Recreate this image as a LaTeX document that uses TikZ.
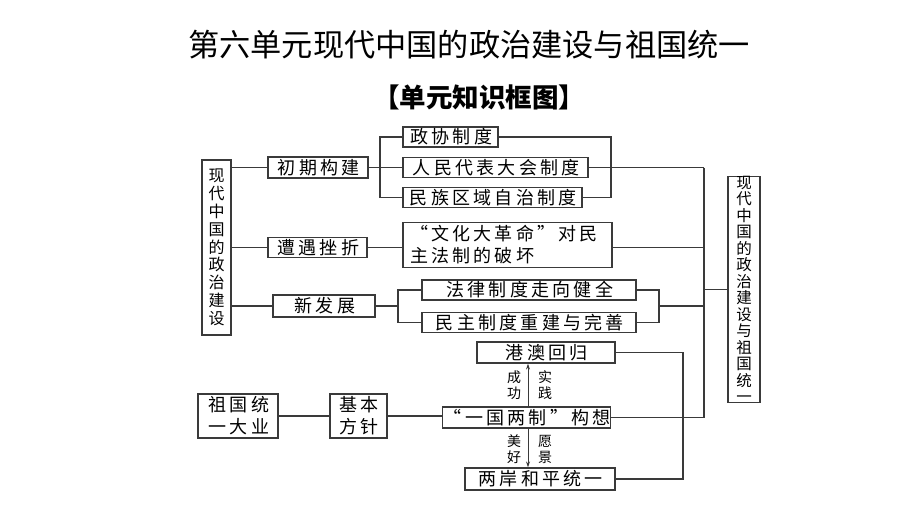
\documentclass[tikz,border=0pt]{standalone}
\usepackage{fontspec}
\newfontfamily\cjk{Noto Sans CJK SC}
\newfontfamily\cjksp[LetterSpace=18]{Noto Sans CJK SC}
\usetikzlibrary{arrows.meta}
\definecolor{lc}{HTML}{3A3A3A}
\tikzset{
  bx/.style={draw=lc, line width=1.2pt, inner sep=0pt, align=center,
    font=\cjksp\fontsize{18}{22}\selectfont, text=black},
  vbx/.style={draw=lc, line width=1.2pt, inner sep=0pt, align=center,
    font=\cjk\fontsize{16}{17.8}\selectfont, text=black},
  ln/.style={draw=lc, line width=1.2pt},
  lbl/.style={inner sep=0pt, align=center, font=\cjk\fontsize{14}{16}\selectfont, text=black}
}
\newcommand{\ks}{\kern1.6pt}
\begin{document}
\begin{tikzpicture}[x=1pt,y=-1pt]
\useasboundingbox (0,0) rectangle (920,517);
\fill[white] (0,0) rectangle (920,517);
% titles
\node[font=\cjk\fontsize{31.2}{36}\selectfont] (title) at (469,45) {第六单元现代中国的政治建设与祖国统一};
\node[font=\cjk\bfseries\fontsize{26.5}{30}\selectfont] (sub) at (479,97) {【单元知识框图】};
% boxes
\node[vbx, minimum width=29pt, minimum height=175pt] (L) at (216.5,247.5) {现\\代\\中\\国\\的\\政\\治\\建\\设};
\node[bx, minimum width=100pt, minimum height=21pt] (cq) at (318,167.5) {\ks 初期构建};
\node[bx, minimum width=95pt, minimum height=20pt] (zx) at (450.5,137) {\ks 政协制度};
\node[bx, minimum width=185pt, minimum height=20pt] (rd) at (495.5,167.5) {\ks 人民代表大会制度};
\node[bx, minimum width=179pt, minimum height=20pt] (mz) at (492.5,197.5) {\ks 民族区域自治制度};
\node[bx, minimum width=99pt, minimum height=20pt] (zy) at (317.5,247.5) {\ks 遭遇挫折};
\node[bx, minimum width=209pt, minimum height=45pt, align=left, text width=195pt] (wg) at (507.5,245) {“文化大革命”对民\\主法制的破坏};
\node[bx, minimum width=102pt, minimum height=22pt] (xf) at (324,306) {\ks 新发展};
\node[bx, minimum width=214pt, minimum height=20pt] (fl) at (529,290) {\ks 法律制度走向健全};
\node[bx, minimum width=214pt, minimum height=20pt] (mzz) at (529,322.5) {\ks 民主制度重建与完善};
\node[vbx, minimum width=32pt, minimum height=225pt, font=\cjk\fontsize{15.5}{16.5}\selectfont] (R) at (744,289.5) {现\\代\\中\\国\\的\\政\\治\\建\\设\\与\\祖\\国\\统\\一};
\node[bx, minimum width=138pt, minimum height=21pt] (ga) at (546,352.5) {\ks 港澳回归};
\node[bx, minimum width=163pt, minimum height=21pt] (yg) at (526.5,417.5) {\ks “一国两制”构想};
\node[bx, minimum width=150pt, minimum height=22pt] (la) at (540,479) {\ks 两岸和平统一};
\node[bx, minimum width=80pt, minimum height=44pt] (zg) at (238,416) {\ks 祖国统\\\ks 一大业};
\node[bx, minimum width=57pt, minimum height=44pt] (jb) at (358.5,416) {\ks 基本\\\ks 方针};
% helper coordinates
\coordinate (bA) at (380,0);
\coordinate (bB) at (611,0);
\coordinate (bC) at (398,0);
\coordinate (bD) at (659,0);
\coordinate (T) at (704,0);
\coordinate (bE) at (683,0);
\coordinate (ax) at (528,0);
% connectors left
\draw[ln] (L.east |- cq.west) -- (cq.west);
\draw[ln] (L.east |- zy.west) -- (zy.west);
\draw[ln] (L.east |- xf.west) -- (xf.west);
% first group
\draw[ln] (cq.east) -- (rd.west);
\draw[ln] (zx.west) -- (bA |- zx.west) -- (bA |- mz.west) -- (mz.west);
\draw[ln] (zx.east) -- (bB |- zx.east) -- (bB |- mz.east) -- (mz.east);
\draw[ln] (rd.east) -- (T |- rd.east);
% second
\draw[ln] (zy.east) -- (zy.east -| wg.west);
\draw[ln] (wg.east |- zy.east) -- (T |- zy.east);
% third
\draw[ln] (xf.east) -- (bC |- xf.east);
\draw[ln] (fl.west) -- (bC |- fl.west) -- (bC |- mzz.west) -- (mzz.west);
\draw[ln] (fl.east) -- (bD |- fl.east) -- (bD |- mzz.east) -- (mzz.east);
\draw[ln] (bD |- xf.east) -- (T |- xf.east);
% trunk
\draw[ln] (T |- rd.east) -- (T |- yg.east) -- (yg.east);
\draw[ln] (T |- R.west) -- (R.west);
% bottom group
\draw[ln] (ga.east) -- (bE |- ga.east) -- (bE |- la.east) -- (la.east);
\draw[ln] (zg.east) -- (jb.west);
\draw[ln] (jb.east) -- (jb.east -| yg.west);
\draw[ln, -{Stealth[length=6pt,width=4pt]}, line width=1pt] (ax |- yg.north) -- (ax |- ga.south);
\draw[ln, -{Stealth[length=6pt,width=4pt]}, line width=1pt] (ax |- yg.south) -- (ax |- la.north);
\node[lbl] (cg) at (514,385) {成\\功};
\node[lbl] (sj) at (545,385) {实\\践};
\node[lbl] (mh) at (514,449) {美\\好};
\node[lbl] (yj) at (545,449) {愿\\景};
\end{tikzpicture}
\end{document}
